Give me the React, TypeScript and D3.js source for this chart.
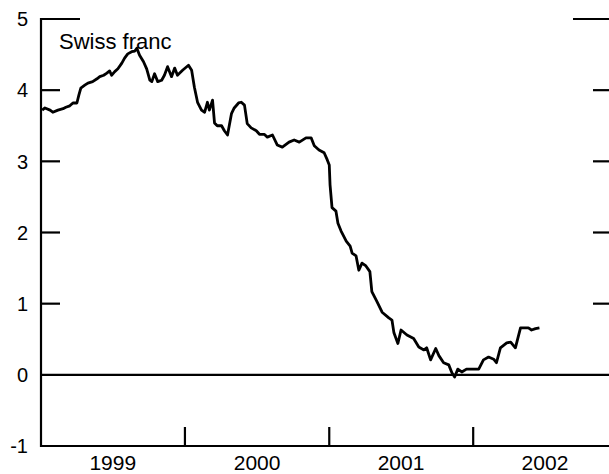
import React from "react";
import * as d3 from "d3";

// weekly readings (percent)
const dates = [
  "1999-01-04", "1999-01-11", "1999-01-24", "1999-01-31", "1999-02-13", "1999-02-26", "1999-03-05", "1999-03-15",
  "1999-03-23", "1999-04-02", "1999-04-07", "1999-04-12", "1999-04-22", "1999-04-30", "1999-05-12", "1999-05-23",
  "1999-05-30", "1999-06-09", "1999-06-17", "1999-06-24", "1999-06-29", "1999-07-07", "1999-07-15", "1999-07-25",
  "1999-08-01", "1999-08-09", "1999-08-19", "1999-08-27", "1999-09-01", "1999-09-08", "1999-09-18", "1999-09-26",
  "1999-10-04", "1999-10-09", "1999-10-16", "1999-10-24", "1999-11-03", "1999-11-10", "1999-11-18", "1999-11-28",
  "1999-12-06", "1999-12-13", "1999-12-26", "2000-01-10", "2000-01-18", "2000-01-25", "2000-02-02", "2000-02-12",
  "2000-02-20", "2000-02-27", "2000-03-03", "2000-03-11", "2000-03-16", "2000-03-23", "2000-04-03", "2000-04-10",
  "2000-04-18", "2000-04-28", "2000-05-05", "2000-05-16", "2000-05-23", "2000-05-31", "2000-06-07", "2000-06-17",
  "2000-06-30", "2000-07-08", "2000-07-20", "2000-07-28", "2000-08-10", "2000-08-22", "2000-09-04", "2000-09-21",
  "2000-10-04", "2000-10-17", "2000-11-03", "2000-11-16", "2000-11-24", "2000-12-06", "2000-12-19", "2000-12-27",
  "2001-01-01", "2001-01-03", "2001-01-08", "2001-01-18", "2001-01-23", "2001-01-31", "2001-02-13", "2001-02-23",
  "2001-02-28", "2001-03-10", "2001-03-17", "2001-03-25", "2001-04-04", "2001-04-14", "2001-04-19", "2001-05-02",
  "2001-05-15", "2001-06-01", "2001-06-09", "2001-06-14", "2001-06-24", "2001-07-02", "2001-07-17", "2001-08-03",
  "2001-08-16", "2001-08-29", "2001-09-05", "2001-09-15", "2001-09-28", "2001-10-06", "2001-10-18", "2001-10-31",
  "2001-11-08", "2001-11-15", "2001-11-23", "2001-12-03", "2001-12-15", "2002-01-02", "2002-01-15", "2002-01-27",
  "2002-02-09", "2002-02-22", "2002-03-01", "2002-03-11", "2002-03-27", "2002-04-06", "2002-04-18", "2002-05-01",
  "2002-05-21", "2002-05-29", "2002-06-08", "2002-06-18",
];

const swissFranc = [
  3.72, 3.75, 3.72, 3.69, 3.72, 3.74, 3.76, 3.78,
  3.82, 3.82, 3.93, 4.03, 4.07, 4.1, 4.12, 4.16,
  4.19, 4.21, 4.24, 4.27, 4.21, 4.26, 4.3, 4.38,
  4.45, 4.51, 4.54, 4.55, 4.59, 4.49, 4.4, 4.3,
  4.14, 4.12, 4.23, 4.12, 4.14, 4.21, 4.33, 4.19,
  4.31, 4.21, 4.28, 4.35, 4.28, 4.04, 3.83, 3.72,
  3.69, 3.83, 3.72, 3.86, 3.54, 3.5, 3.5, 3.43,
  3.37, 3.67, 3.75, 3.82, 3.83, 3.79, 3.53, 3.47,
  3.43, 3.38, 3.38, 3.34, 3.37, 3.23, 3.2, 3.27,
  3.3, 3.27, 3.33, 3.33, 3.22, 3.16, 3.12, 3.02,
  2.95, 2.67, 2.35, 2.3, 2.13, 2.02, 1.88, 1.81,
  1.71, 1.67, 1.47, 1.57, 1.53, 1.45, 1.17, 1.03,
  0.88, 0.8, 0.77, 0.59, 0.44, 0.63, 0.56, 0.51,
  0.39, 0.35, 0.38, 0.21, 0.37, 0.27, 0.17, 0.14,
  0.03, -0.03, 0.08, 0.04, 0.08, 0.08, 0.08, 0.21,
  0.25, 0.22, 0.17, 0.38, 0.45, 0.46, 0.38, 0.66,
  0.66, 0.63, 0.65, 0.66,
];

const yTicks = [5, 4, 3, 2, 1, 0, -1];
const years = ["1999", "2000", "2001", "2002"];
const seriesLabel = "Swiss franc";

const W = 609;
const H = 474;
const font = "'Liberation Sans', Arial, Helvetica, sans-serif";

export default function App() {
  const parse = d3.timeParse("%Y-%m-%d");
  const data = dates.map((d, i) => ({ date: parse(d) as Date, v: swissFranc[i] }));

  const x = d3
    .scaleTime()
    .domain([new Date(1999, 0, 1), new Date(2002, 11, 19)])
    .range([41, 612]);
  const y = d3.scaleLinear().domain([-1, 5]).range([446, 19]);

  const line = d3
    .line<{ date: Date; v: number }>()
    .x((d) => x(d.date))
    .y((d) => y(d.v));

  const left = x.range()[0];
  const right = x.range()[1];

  return (
    <svg
      width={W}
      height={H}
      style={{ position: "absolute", left: 0, top: 0, background: "#fff" }}
      fontFamily={font}
    >
      {/* left axis */}
      <line x1={left} x2={left} y1={y(5) - 1} y2={y(-1) + 1} stroke="#000" strokeWidth={2.2} />
      {/* bottom axis */}
      <line x1={left} x2={W} y1={y(-1)} y2={y(-1)} stroke="#000" strokeWidth={2.2} />
      {/* zero line */}
      <line x1={left} x2={W} y1={y(0)} y2={y(0)} stroke="#000" strokeWidth={2.2} />

      {/* y ticks, both sides */}
      {yTicks.map((t) => {
        const len = t === 5 ? 39 : 19;
        return (
          <g key={t}>
            {t !== 0 && t !== -1 && (
              <>
                <line x1={left} x2={left + len} y1={y(t)} y2={y(t)} stroke="#000" strokeWidth={2.2} />
                <line x1={right - len} x2={right} y1={y(t)} y2={y(t)} stroke="#000" strokeWidth={2.2} />
              </>
            )}
            <text
              x={28}
              y={y(t)}
              dy="0.36em"
              textAnchor="end"
              fontSize={20}
              fill="#000"
            >
              {t}
            </text>
          </g>
        );
      })}

      {/* year ticks and labels */}
      {years.map((yr, i) => {
        const start = new Date(+yr, 0, 1);
        const mid = new Date(+yr, 6, 2);
        return (
          <g key={yr}>
            {i > 0 && (
              <line
                x1={x(start)}
                x2={x(start)}
                y1={y(-1)}
                y2={y(-1) - 19}
                stroke="#000"
                strokeWidth={2.2}
              />
            )}
            <text x={x(mid)} y={470} textAnchor="middle" fontSize={21} fill="#000">
              {yr}
            </text>
          </g>
        );
      })}

      <path d={line(data) ?? ""} fill="none" stroke="#000" strokeWidth={2.8} strokeLinejoin="round" />

      <text x={59} y={49} fontSize={22} fill="#000">
        {seriesLabel}
      </text>
    </svg>
  );
}
